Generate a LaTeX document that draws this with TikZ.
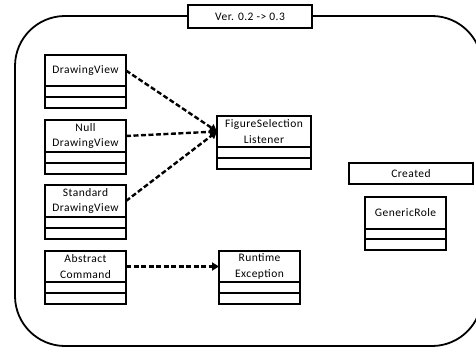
\documentclass[tikz,border=0pt]{standalone}
\usepackage{fontspec}
\setmainfont{Carlito}[LetterSpace=4]
\usetikzlibrary{positioning,arrows.meta}
\begin{document}
\begin{tikzpicture}[x=1pt,y=-1pt,
  every node/.style={font=\fontsize{11.5}{15.5}\selectfont},
  box/.style={draw,line width=1.7pt,outer sep=0pt,inner sep=1pt,fill=white,align=center},
  cname/.style={box,minimum width=81pt,minimum height=31pt},
  comp/.style={box,minimum width=81pt,minimum height=11pt},
  dep/.style={line width=2.4pt,dash pattern=on 5pt off 2.5pt,-{Triangle[length=7pt,width=8pt]}}]
\useasboundingbox (0,0) rectangle (476,350);
\begin{scope}
\clip (0,0) rectangle (476,350);
\draw[line width=1.8pt,rounded corners=50pt] (15,16) rectangle (482,346);
\end{scope}
\node[box,minimum width=124pt,minimum height=23pt] (title) at (250,16.5) {Ver. 0.2 -> 0.3};
% DrawingView
\node[cname] (dv) at (85.5,70.5) {DrawingView};
\node[comp,below=0pt of dv] (dv1) {};
\node[comp,below=0pt of dv1] (dv2) {};
% Null DrawingView
\node[cname,minimum height=32pt] (ndv) at (85.5,136) {Null\\DrawingView};
\node[comp,below=0pt of ndv] (ndv1) {};
\node[comp,below=0pt of ndv1] (ndv2) {};
% Standard DrawingView
\node[cname,minimum height=32pt] (sdv) at (85.5,201) {Standard\\DrawingView};
\node[comp,below=0pt of sdv] (sdv1) {};
\node[comp,below=0pt of sdv1] (sdv2) {};
% Abstract Command
\node[cname] (ac) at (85.5,266.5) {Abstract\\Command};
\node[comp,below=0pt of ac] (ac1) {};
\node[comp,below=0pt of ac1] (ac2) {};
% Runtime Exception
\node[cname] (re) at (259.5,266.5) {Runtime\\Exception};
\node[comp,below=0pt of re] (re1) {};
\node[comp,below=0pt of re1] (re2) {};
% FigureSelection Listener
\node[cname,minimum width=94pt] (fsl) at (264,131.5) {FigureSelection\\Listener};
\node[comp,minimum width=94pt,below=0pt of fsl] (fsl1) {};
\node[comp,minimum width=94pt,below=0pt of fsl1] (fsl2) {};
% Created
\node[box,minimum width=124pt,minimum height=21pt] (created) at (411,173.5) {Created};
% Generic Role
\node[cname,minimum height=32pt] (gr) at (405.5,213) {GenericRole};
\node[comp,minimum height=10pt,below=0pt of gr] (gr1) {};
\node[comp,below=0pt of gr1] (gr2) {};
% dependencies
\draw[dep] (dv.east) -- (fsl.west);
\draw[dep] (ndv.east) -- (fsl.west);
\draw[dep] (sdv.east) -- (fsl.west);
\draw[dep] (ac.east) -- (re.west);
\end{tikzpicture}
\end{document}
